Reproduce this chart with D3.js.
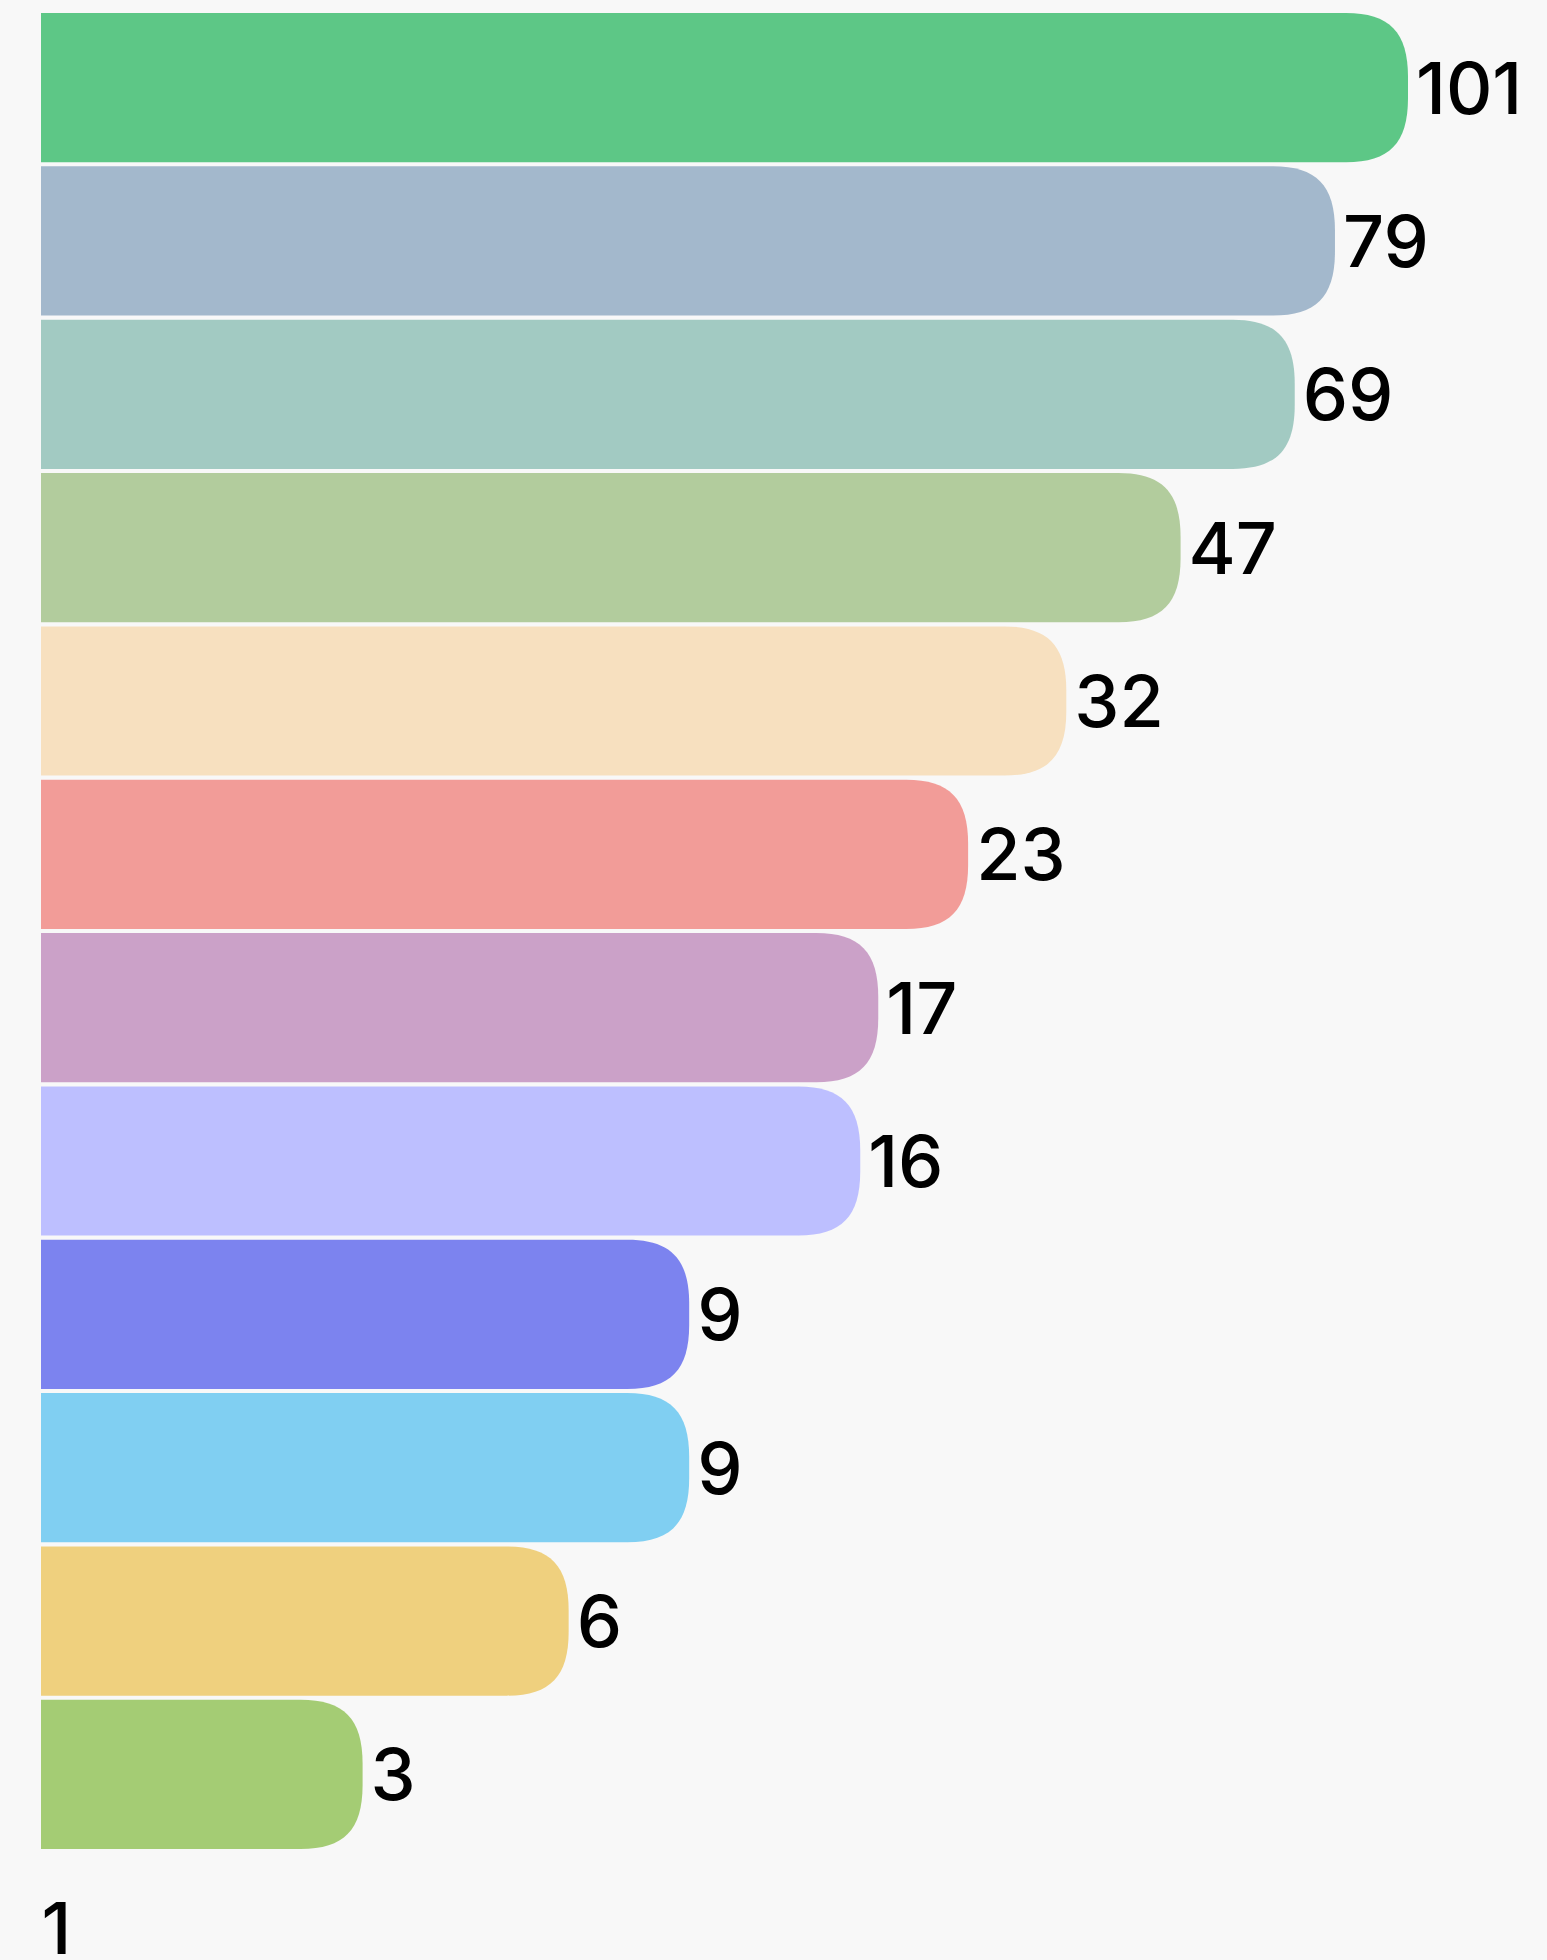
<!DOCTYPE html>
<html>
<head>
<meta charset="utf-8">
<script src="https://cdn.jsdelivr.net/npm/d3@7"></script>
<style>
  html, body { margin: 0; padding: 0; background: #F8F8F8; }
  svg { display: block; }
  text { font-family: Inter, "Noto Sans", sans-serif; fill: #000; }
</style>
</head>
<body>
<svg id="chart" width="1547" height="1960"></svg>
<script>
const categories = ["a","b","c","d","e","f","g","h","i","j","k","l"];
const values = [101, 79, 69, 47, 32, 23, 17, 16, 9, 9, 6, 3];
const colors = ["#5DC786","#A3B8CC","#A2CAC2","#B2CC9D","#F7E0BF","#F29C98",
                "#CBA1C8","#BDBFFF","#7C83EF","#80CFF2","#EFD07E","#A4CC74"];
const tickValues = [1];
const tickLabels = ["1"];

const W = 1547, H = 1960;
const left = 41;
const svg = d3.select("#chart");
svg.append("rect").attr("width", W).attr("height", H).attr("fill", "#F8F8F8");

const x = d3.scaleLog().domain([1, 101]).range([36, 1408]);
const y = d3.scaleBand().domain(categories).range([13, 1849]).paddingInner(0.027).paddingOuter(0);

function barPath(x0, x1, y0, y1) {
  const rx = Math.min(62, (x1 - x0)), ry = Math.min(64, (y1 - y0) / 2);
  const k = 0.3;
  return `M${x0},${y0}H${x1 - rx}` +
    `C${x1 - rx * k},${y0} ${x1},${y0 + ry * k} ${x1},${y0 + ry}` +
    `V${y1 - ry}` +
    `C${x1},${y1 - ry * k} ${x1 - rx * k},${y1} ${x1 - rx},${y1}` +
    `H${x0}Z`;
}

const g = svg.append("g");
g.selectAll("path.bar").data(values).join("path")
  .attr("class", "bar")
  .attr("fill", (d, i) => colors[i])
  .attr("d", (d, i) => barPath(left, x(d), y(categories[i]), y(categories[i]) + y.bandwidth()));

g.selectAll("text.val").data(values).join("text")
  .attr("class", "val")
  .attr("x", d => x(d) + 8)
  .attr("y", (d, i) => y(categories[i]) + y.bandwidth() / 2)
  .attr("dy", "0.36em")
  .attr("font-size", 72)
  .attr("font-weight", 500)
  .text(d => d);

const axis = d3.axisBottom(x).tickValues(tickValues).tickFormat((d, i) => tickLabels[i]).tickSize(0);
const ax = svg.append("g").attr("transform", "translate(0,1860)").call(axis);
ax.select(".domain").remove();
ax.selectAll("text")
  .attr("x", left - x(1))
  .attr("y", 94)
  .attr("dy", 0)
  .attr("text-anchor", "start")
  .attr("font-size", 72)
  .attr("font-weight", 500)
  .attr("font-family", "Inter, 'Noto Sans', sans-serif")
  .attr("fill", "#000");
</script>
</body>
</html>
